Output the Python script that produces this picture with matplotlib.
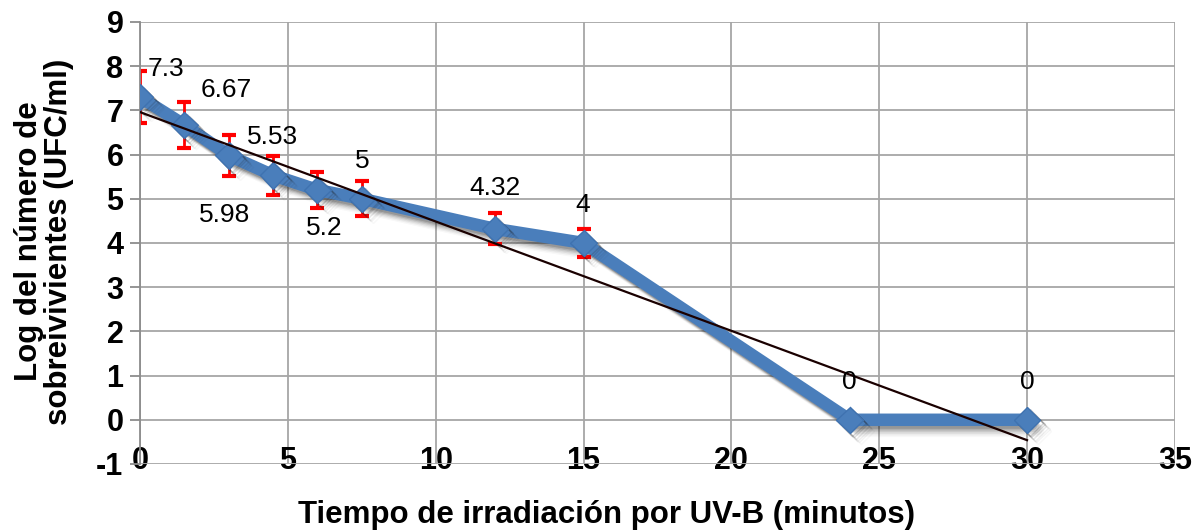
import matplotlib
matplotlib.use('Agg')
import matplotlib.pyplot as plt
import matplotlib.patheffects as pe
import numpy as np

# Supervivencia frente al tiempo de exposición UV-B
tiempo = [0, 1.5, 3, 4.5, 6, 7.5, 12, 15, 24, 30]
log_ufc = [7.3, 6.67, 5.98, 5.53, 5.2, 5, 4.32, 4, 0, 0]
error = [0.58, 0.53, 0.47, 0.44, 0.40, 0.40, 0.35, 0.32, 0, 0]
etiquetas = ['7.3', '6.67', '5.98', '5.53', '5.2', '5', '4.32', '4', '0', '0']

# Desplazamiento (px) de cada etiqueta respecto al punto
desplaz = [(8, 28), (42, 35), (-4, -60), (-1, 38), (7, -38), (0, 38),
           (0, 41), (-1, 38), (0, 38), (0, 38)]
alin = ['left', 'center', 'center', 'center', 'center', 'center',
        'center', 'center', 'center', 'center']

plt.rcParams['font.family'] = ['Liberation Sans', 'DejaVu Sans']
plt.rcParams['axes.unicode_minus'] = False

fig = plt.figure(figsize=(11.97, 5.31), dpi=100)
ax = fig.add_axes([0.117, 0.1262, 0.8645, 0.8324])

azul = '#4a7ebb'


def sombra_difusa():
    # varias sombras desplazadas para simular desenfoque
    efectos = []
    for i, a in enumerate([0.18, 0.14, 0.10, 0.07, 0.05, 0.03]):
        d = 2 + i * 1.2
        efectos.append(pe.SimpleLineShadow(offset=(d, -d), shadow_color='#202020', alpha=a))
    efectos.append(pe.Normal())
    return efectos


# Línea de la serie
ax.plot(tiempo, log_ufc, color=azul, lw=9, solid_joinstyle='round',
        solid_capstyle='round', path_effects=sombra_difusa(), zorder=2)

# Barras de error
ax.errorbar(tiempo[:8], log_ufc[:8], yerr=error[:8], fmt='none', ecolor='#ff0000',
            elinewidth=2, capsize=5, capthick=3, zorder=2.5)

# Marcadores
ax.plot(tiempo, log_ufc, ls='none', marker='D', markersize=13.5,
        markerfacecolor=azul, markeredgecolor='#3f72b0', markeredgewidth=1,
        path_effects=sombra_difusa(), zorder=3)

# Línea de tendencia lineal
m, b = np.polyfit(tiempo, log_ufc, 1)
xt = np.array([0, 30])
ax.plot(xt, m * xt + b, color='#1a0000', lw=1.6, zorder=5)

# Etiquetas de datos
for x, y, t, d, h in zip(tiempo, log_ufc, etiquetas, desplaz, alin):
    ax.annotate(t, (x, y), xytext=d, textcoords='offset pixels',
                ha=h, va='center', fontsize=19, color='black', zorder=6)

ax.set_xlim(0, 35)
ax.set_ylim(-1, 9)
ax.set_xticks(range(0, 36, 5))
ax.set_yticks(range(-1, 10))
ax.grid(True, color='#a6a6a6', lw=1.3)
ax.set_axisbelow(True)
for s in ['top', 'right', 'bottom']:
    ax.spines[s].set_visible(False)
ax.spines['left'].set_color('#8c8c8c')
ax.spines['left'].set_linewidth(1.3)
ax.tick_params(axis='y', length=7, color='#8c8c8c', width=1.3, pad=5,
               labelsize=22)
ax.tick_params(axis='x', length=0, pad=-13, labelsize=22)
for lab in ax.get_xticklabels() + ax.get_yticklabels():
    lab.set_fontweight('bold')

fig.text(0.507, 0.03, 'Tiempo de irradiación por UV-B (minutos)',
         ha='center', va='center', fontsize=22.5, fontweight='bold')
fig.text(0.037, 0.545, 'Log del número de\nsobreivivientes (UFC/ml)',
         ha='center', va='center', rotation=90, fontsize=22.5,
         fontweight='bold', linespacing=1.0)

fig.savefig('out.png', dpi=100)
